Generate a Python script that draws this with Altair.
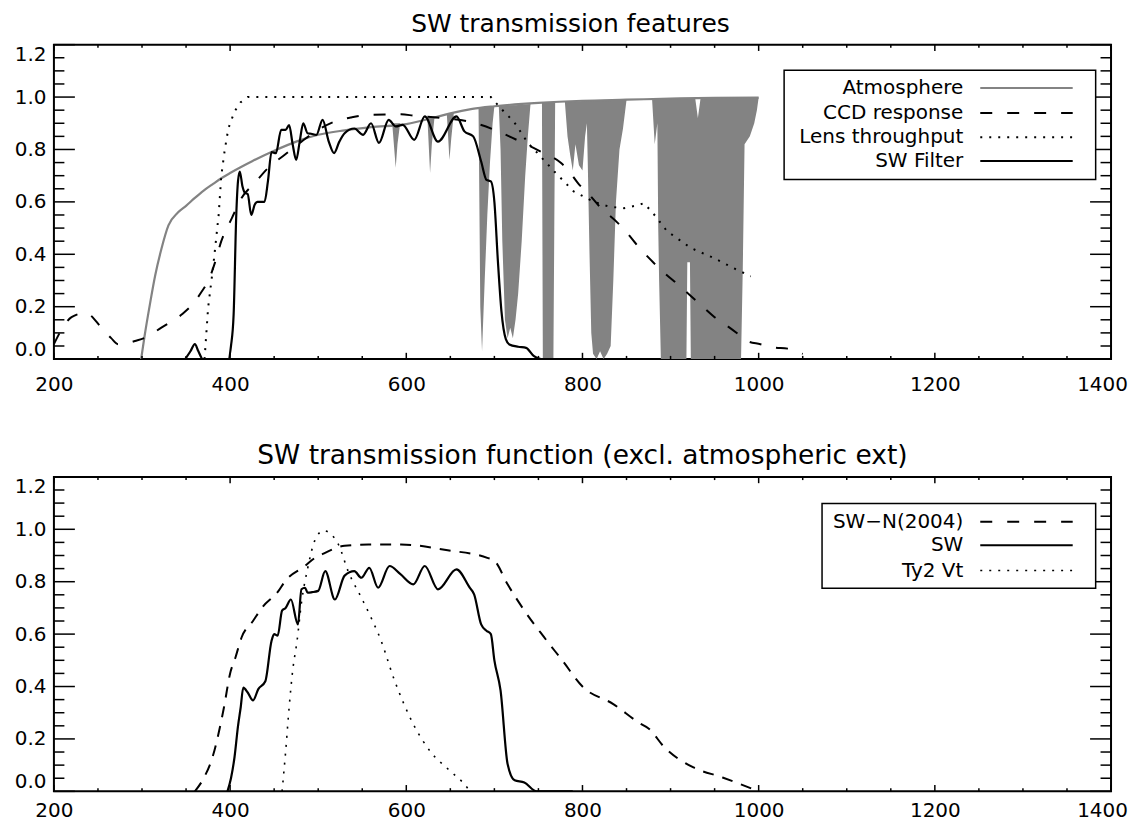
import altair as alt
import pandas as pd

# ---------------- top panel: SW transmission features ----------------
top_title = "SW transmission features"
top_labels = ["Atmosphere", "CCD response", "Lens throughput", "SW Filter"]

atm_x = [299, 303, 309, 315, 322, 330, 341, 350, 360, 370, 380, 390, 400, 425, 450,
         475, 500, 530, 560, 600, 630, 650, 675, 700, 750, 800, 850, 900, 950, 1000]
atm_y = [0.0, 0.09, 0.21, 0.32, 0.42, 0.51, 0.56, 0.585, 0.615, 0.643, 0.667, 0.69, 0.71,
         0.755, 0.795, 0.83, 0.856, 0.873, 0.885, 0.897, 0.92, 0.938, 0.955, 0.965, 0.978,
         0.986, 0.99, 0.994, 0.997, 0.998]

band_x = [584, 588, 590, 593, 624, 627, 629, 632, 646, 649, 651, 654, 682, 684, 686, 689,
          692, 695, 698, 700, 705, 707, 709, 712, 715, 718, 721, 724, 727, 729, 731, 735,
          738, 741, 754, 755, 767, 768, 769, 780, 783, 786, 789, 792, 796, 800, 803, 805,
          806, 808, 810, 812, 816, 820, 824, 828, 832, 835, 838, 842, 846, 850, 879, 882,
          885, 886, 887, 889, 918, 919, 922, 923, 928, 931, 934, 975, 980, 982, 984, 990,
          995, 998, 1000]
band_lo = [0.90, 0.73, 0.82, 0.90, 0.918, 0.71, 0.82, 0.922, 0.935, 0.76, 0.84, 0.94, 0.957,
           0.20, 0.03, 0.30, 0.55, 0.75, 0.90, 0.965, 0.966, 0.80, 0.45, 0.15, 0.08, 0.12,
           0.08, 0.15, 0.25, 0.35, 0.45, 0.70, 0.85, 0.974, 0.978, 0.0, 0.0, 0.5, 0.98,
           0.982, 0.85, 0.78, 0.72, 0.82, 0.74, 0.72, 0.85, 0.90, 0.75, 0.40, 0.10, 0.02,
           0.0, 0.03, 0.0, 0.02, 0.05, 0.30, 0.60, 0.80, 0.88, 0.989, 0.992, 0.82, 0.90,
           0.50, 0.30, 0.0, 0.0, 0.37, 0.37, 0.0, 0.0, 0.0, 0.0, 0.0, 0.0, 0.35, 0.82, 0.85,
           0.90, 0.95, 0.998]
band_hi = [0.90, 0.90, 0.90, 0.90, 0.918, 0.918, 0.918, 0.922, 0.935, 0.935, 0.935, 0.94,
           0.957, 0.957, 0.958, 0.96, 0.96, 0.962, 0.963, 0.965, 0.966, 0.966, 0.967, 0.967,
           0.968, 0.968, 0.969, 0.969, 0.97, 0.97, 0.971, 0.972, 0.973, 0.974, 0.978, 0.978,
           0.979, 0.98, 0.98, 0.982, 0.982, 0.983, 0.983, 0.984, 0.984, 0.985, 0.985, 0.985,
           0.985, 0.985, 0.986, 0.986, 0.986, 0.987, 0.987, 0.987, 0.988, 0.988, 0.988,
           0.989, 0.989, 0.989, 0.992, 0.992, 0.992, 0.992, 0.992, 0.993, 0.994, 0.994,
           0.994, 0.994, 0.995, 0.92, 0.995, 0.997, 0.997, 0.997, 0.997, 0.998, 0.998,
           0.998, 0.998]

ccd_x = [200, 210, 220, 236, 254, 265, 273, 285, 292, 303, 322, 345, 360, 368, 375, 383,
         390, 402, 413, 428, 443, 462, 481, 500, 519, 537, 557, 594, 609, 640, 674, 700,
         720, 745, 756, 775, 785, 796, 806, 820, 840, 849, 860, 870, 881, 891, 910, 930,
         950, 965, 977, 987, 1002, 1017, 1033, 1045, 1050]
ccd_y = [0.057, 0.12, 0.16, 0.176, 0.12, 0.08, 0.057, 0.062, 0.069, 0.081, 0.12, 0.17,
         0.22, 0.259, 0.297, 0.37, 0.45, 0.538, 0.615, 0.672, 0.729, 0.78, 0.83, 0.875,
         0.907, 0.922, 0.932, 0.934, 0.929, 0.92, 0.904, 0.875, 0.845, 0.805, 0.786, 0.75,
         0.716, 0.667, 0.634, 0.58, 0.52, 0.488, 0.443, 0.405, 0.367, 0.335, 0.28, 0.22,
         0.16, 0.125, 0.095, 0.069, 0.057, 0.044, 0.04, 0.025, 0.02]

lens_x = [371, 375, 381, 387, 390, 394, 398, 405, 412, 420, 696, 702, 712, 722, 738, 749,
          768, 790, 813, 830, 847, 860, 870, 883, 896, 910, 923, 949, 971, 991]
lens_y = [0.0, 0.195, 0.36, 0.55, 0.70, 0.80, 0.88, 0.945, 0.98, 1.0, 1.0, 0.977, 0.94,
          0.907, 0.825, 0.786, 0.716, 0.64, 0.60, 0.582, 0.576, 0.585, 0.595, 0.545, 0.488,
          0.455, 0.424, 0.386, 0.348, 0.316]

swf_x = [349, 355, 360, 364, 369, 398, 401, 404, 407, 409, 411, 414, 417, 420, 424, 428,
         431, 439, 443, 447, 452, 458, 463, 467, 471, 475, 479, 483, 488, 492, 498, 505,
         512, 518, 524, 530, 541, 551, 560, 569, 580, 588, 596, 609, 621, 636, 657, 666,
         676, 685, 691, 696, 700, 704, 708, 713, 717, 727, 736, 745, 753, 790]
swf_y = [0.0, 0.03, 0.057, 0.03, 0.0, 0.0, 0.05, 0.17, 0.55, 0.68, 0.716, 0.66, 0.634,
         0.63, 0.55, 0.59, 0.60, 0.60, 0.68, 0.79, 0.786, 0.875, 0.875, 0.893, 0.82, 0.76,
         0.83, 0.90, 0.862, 0.86, 0.856, 0.913, 0.83, 0.786, 0.83, 0.862, 0.88, 0.856, 0.90,
         0.825, 0.913, 0.888, 0.894, 0.837, 0.926, 0.83, 0.926, 0.869, 0.85, 0.754, 0.684,
         0.678, 0.60, 0.373, 0.183, 0.076, 0.056, 0.047, 0.043, 0.011, 0.0, 0.0]

# ---------------- bottom panel ----------------
bottom_title = "SW transmission function (excl. atmospheric ext)"
bottom_labels = ["SW\u2212N(2004)", "SW", "Ty2 Vt"]

swn_x = [360, 370, 380, 393, 400, 406, 413, 426, 436, 455, 462, 485, 496, 504, 530, 557,
         594, 647, 692, 700, 715, 734, 756, 777, 800, 835, 865, 875, 893, 926, 959, 1000]
swn_y = [0.0, 0.05, 0.13, 0.32, 0.45, 0.51, 0.587, 0.65, 0.70, 0.765, 0.80, 0.86, 0.89,
         0.904, 0.937, 0.942, 0.942, 0.92, 0.891, 0.88, 0.79, 0.69, 0.59, 0.50, 0.40, 0.333,
         0.26, 0.24, 0.168, 0.091, 0.053, 0.0]

sw_x = [397, 401, 405, 409, 412, 415, 420, 426, 432, 440, 447, 450, 454, 459, 463, 469,
        477, 481, 485, 488, 493, 500, 508, 519, 530, 541, 549, 558, 568, 581, 593, 608,
        621, 636, 657, 672, 677, 685, 691, 696, 700, 707, 715, 723, 734, 748, 789]
sw_y = [0.0, 0.05, 0.13, 0.25, 0.32, 0.396, 0.377, 0.347, 0.39, 0.42, 0.574, 0.60, 0.594,
        0.69, 0.70, 0.732, 0.637, 0.771, 0.777, 0.758, 0.76, 0.765, 0.84, 0.732, 0.823,
        0.84, 0.815, 0.853, 0.777, 0.86, 0.83, 0.79, 0.86, 0.771, 0.847, 0.777, 0.752,
        0.637, 0.613, 0.60, 0.50, 0.385, 0.104, 0.042, 0.034, 0.0, 0.0]

ty_x = [459, 463, 467, 471, 476, 481, 488, 496, 506, 515, 523, 534, 549, 560, 570, 587,
        608, 628, 649, 670, 672]
ty_y = [0.0, 0.15, 0.32, 0.46, 0.574, 0.72, 0.85, 0.956, 0.995, 0.98, 0.942, 0.84, 0.739,
        0.663, 0.587, 0.42, 0.256, 0.149, 0.08, 0.01, 0.0]

# ---------------- axes ticks ----------------
x_major = [200, 400, 600, 800, 1000, 1200, 1400]
x_minor = [250, 300, 350, 450, 500, 550, 650, 700, 750, 850, 900, 950, 1050, 1100, 1150,
           1250, 1300, 1350]
y_major = [0.0, 0.2, 0.4, 0.6, 0.8, 1.0, 1.2]
y_minor = [0.05, 0.1, 0.15, 0.25, 0.3, 0.35, 0.45, 0.5, 0.55, 0.65, 0.7, 0.75, 0.85, 0.9,
           0.95, 1.05, 1.1, 1.15]

# ---------------- styling ----------------
W, H = 1059, 315
FONT = "DejaVu Sans"
GRAY = "#838383"
DASH = [12, 15]
DOT = [2, 7]
XS = alt.Scale(domain=[200, 1400], nice=False, zero=False)
YS = alt.Scale(domain=[0, 1.2], nice=False, zero=False)


def make_x_axis(pad):
    return alt.Axis(values=x_major, format="d", ticks=False, domain=False, grid=False,
                    labelPadding=pad, labelFlush=False, labelOverlap=False, labelAngle=0,
                    labelOffset=alt.condition("datum.value == 1400", alt.value(-9), alt.value(0)),
                    title=None, labelFontSize=20, labelFont=FONT, labelColor="black")


y_axis = alt.Axis(values=y_major, format=".1f", ticks=False, domain=False, grid=False,
                  labelPadding=8, labelFlush=True, labelOverlap=False, title=None,
                  minExtent=39, maxExtent=39, labelFontSize=20, labelFont=FONT,
                  labelColor="black")


def panel_layers(xa):
    def X():
        return alt.X("x:Q", scale=XS, axis=xa)

    def Y(field="y"):
        return alt.Y(f"{field}:Q", scale=YS, axis=y_axis)

    def curve(x, y, color="black", dash=None, width=2.0, interp="monotone"):
        kw = dict(color=color, strokeWidth=width, interpolate=interp, clip=True)
        if dash:
            kw["strokeDash"] = dash
        return alt.Chart(pd.DataFrame({"x": x, "y": y})).mark_line(**kw).encode(x=X(), y=Y())

    def ticks():
        layers = []
        for vals, ln in [(x_major, 6.3), (x_minor, 3.2)]:
            d = pd.DataFrame({"x": vals})
            layers.append(alt.Chart(d).mark_rule(color="black", strokeWidth=1.5).encode(
                x=X(), y=alt.value(H), y2=alt.value(H - ln)))
            layers.append(alt.Chart(d).mark_rule(color="black", strokeWidth=1.5).encode(
                x=X(), y=alt.value(0), y2=alt.value(ln)))
        for vals, ln in [(y_major, 21), (y_minor, 10.5)]:
            d = pd.DataFrame({"y": vals})
            layers.append(alt.Chart(d).mark_rule(color="black", strokeWidth=1.5).encode(
                y=Y(), x=alt.value(0), x2=alt.value(ln)))
            layers.append(alt.Chart(d).mark_rule(color="black", strokeWidth=1.5).encode(
                y=Y(), x=alt.value(W - ln), x2=alt.value(W)))
        return layers

    def band():
        return alt.Chart(pd.DataFrame({"x": band_x, "lo": band_lo, "hi": band_hi})).mark_area(
            color=GRAY, opacity=1, interpolate="linear", clip=True).encode(
            x=X(), y=Y("lo"), y2="hi:Q")

    return curve, ticks, band


def legend(labels, styles, box, rows_y):
    layers = [alt.Chart(pd.DataFrame({"k": [0]})).mark_rect(
        fill="white", stroke="black", strokeWidth=1.5).encode(
        x=alt.value(box[0]), x2=alt.value(box[1]), y=alt.value(box[2]), y2=alt.value(box[3]))]
    for lab, st, ry in zip(labels, styles, rows_y):
        d = pd.DataFrame({"t": [lab]})
        layers.append(alt.Chart(d).mark_text(align="right", baseline="middle", font=FONT,
                                             fontSize=20, color="black").encode(
            text="t:N", x=alt.value(911), y=alt.value(ry)))
        layers.append(alt.Chart(d).mark_rule(**st).encode(
            x=alt.value(928), x2=alt.value(1020.6), y=alt.value(ry)))
    return layers


# top panel
curve, ticks, band = panel_layers(make_x_axis(15))
top_styles = [dict(color=GRAY, strokeWidth=2),
              dict(color="black", strokeWidth=2, strokeDash=DASH),
              dict(color="black", strokeWidth=2, strokeDash=DOT),
              dict(color="black", strokeWidth=2)]
top = alt.layer(
    band(),
    curve(atm_x, atm_y, color=GRAY, width=2.2),
    curve(ccd_x, ccd_y, dash=DASH),
    curve(lens_x, lens_y, dash=DOT, interp="linear"),
    curve(swf_x, swf_y, width=2.2),
    *ticks(),
    *legend(top_labels, top_styles, (731.5, 1043.6, 25.6, 135), [43.5, 68.5, 92.7, 116.6]),
).properties(width=W, height=H,
             title=alt.Title(top_title, fontSize=25, font=FONT, fontWeight="normal",
                             color="black", anchor="middle", offset=7, frame="group",
                             dx=-12))

# bottom panel
curve, ticks, band = panel_layers(make_x_axis(9))
bot_styles = [dict(color="black", strokeWidth=2, strokeDash=DASH),
              dict(color="black", strokeWidth=2),
              dict(color="black", strokeWidth=1.6, strokeDash=DOT)]
bottom = alt.layer(
    curve(swn_x, swn_y, dash=[11, 9]),
    curve(sw_x, sw_y, width=2.2),
    curve(ty_x, ty_y, dash=DOT, width=1.6),
    *ticks(),
    *legend(bottom_labels, bot_styles, (769.5, 1043.6, 26.7, 111.6), [45, 68.5, 93.8]),
).properties(width=W, height=H,
             title=alt.Title(bottom_title, fontSize=26.5, font=FONT, fontWeight="normal",
                             color="black", anchor="middle", offset=7, frame="group"))

chart = alt.vconcat(top, bottom, spacing=46).properties(
    padding={"left": 5, "top": 2, "right": 0, "bottom": 0},
    background="white",
).configure_view(stroke="black", strokeWidth=2)

chart.save("out.html", embed_options={"renderer": "svg", "actions": False})
